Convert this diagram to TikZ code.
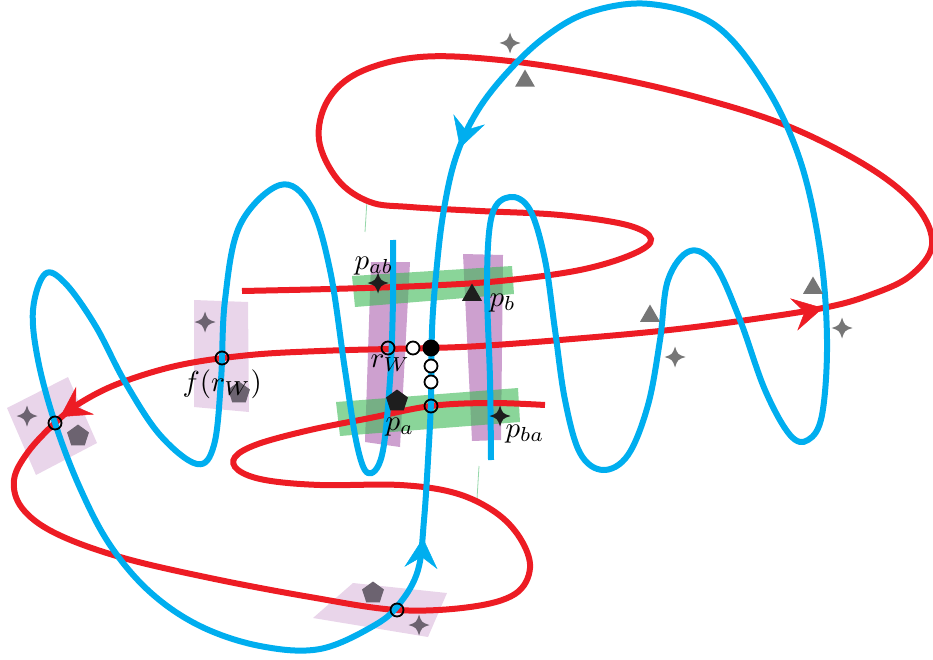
\documentclass[tikz,border=0pt]{standalone}
\usetikzlibrary{arrows.meta,shapes.geometric}
\definecolor{cred}{RGB}{237,28,36}
\definecolor{cblue}{RGB}{0,174,239}
\definecolor{mgray}{RGB}{118,118,118}
\definecolor{bgray}{RGB}{108,99,112}
\definecolor{lav}{RGB}{233,213,234}
\definecolor{bpurp}{RGB}{205,160,207}
\definecolor{bgreen}{RGB}{60,185,85}
\definecolor{tgreen}{RGB}{150,215,170}
\definecolor{mblack}{RGB}{30,30,30}
\tikzset{
  redline/.style={draw=cred, line width=6pt},
  blueline/.style={draw=cblue, line width=6pt},
  tipred/.style={draw=cred, fill=cred, line width=0.5pt, -{Stealth[length=30pt,width=33pt,inset=11pt]}},
  tipblue/.style={draw=cblue, fill=cblue, line width=0.5pt, -{Stealth[length=30pt,width=33pt,inset=11pt]}},
  lavbox/.style={fill=lav},
  purpband/.style={fill=bpurp},
  greenband/.style={fill=bgreen, fill opacity=0.6},
  thingreen/.style={draw=tgreen, line width=0.8pt},
  pentmark/.style={regular polygon, regular polygon sides=5, minimum size=23pt, inner sep=0pt},
  trimark/.style={regular polygon, regular polygon sides=3, minimum size=23pt, inner sep=0pt},
  hollow/.style={circle, draw=black, line width=1.8pt, minimum size=13pt, inner sep=0pt},
  hollowwhite/.style={hollow, fill=white},
  blackdot/.style={circle, fill=black, minimum size=17pt, inner sep=0pt},
  lbl/.style={anchor=base west, inner sep=0pt, scale=2.9},
  astro/.pic={\path[pic actions] (0,-10.5) .. controls (2.6,-2.6) .. (10.5,0) .. controls (2.6,2.6) .. (0,10.5) .. controls (-2.6,2.6) .. (-10.5,0) .. controls (-2.6,-2.6) .. cycle;}
}
\begin{document}
\begin{tikzpicture}[x=1pt,y=-1pt]
\useasboundingbox (0,0) rectangle (933,660);
% lavender boxes
\fill[lavbox] (194,300) -- (248,302) -- (249,412) -- (194,407) -- cycle;
\fill[lavbox] (7,408) -- (68,377) -- (97,443) -- (36,475) -- cycle;
\fill[lavbox] (313,618) -- (353,583) -- (447,593) -- (428,637) -- cycle;
% purple and green bands
\fill[purpband] (371,262) -- (410,262) -- (400,447) -- (365,442) -- cycle;
\fill[purpband] (463,254) -- (503,255) -- (501,440) -- (472,441) -- cycle;
\fill[greenband] (352,276) -- (512,266) -- (514,294) -- (355,307) -- cycle;
\fill[greenband] (336,402) -- (518,388) -- (520,422) -- (340,436) -- cycle;
% thin green lines
\coordinate (g1) at (367,200); \coordinate (g2) at (365,232);
\coordinate (g3) at (479,466); \coordinate (g4) at (477,499);
\draw[thingreen] (g1) -- (g2);
\draw[thingreen] (g3) -- (g4);
% red curve
\draw[redline] plot[smooth, tension=0.6] coordinates {
(242,291) (330,289) (420,286) (500,281) (580,270) (633,254) (651,239) (627,225) (560,215) (480,211) (410,207) (370,202) (338,180) (319,140) (328,100) (360,72) (420,57) (500,60) (600,75) (700,98) (790,127) (870,168) (917,207) (932,245) (910,276) (870,295) (823,308) (740,321) (660,331) (560,340) (480,346) (431,348) (388,349) (320,351) (250,355) (180,365) (120,383) (80,403) (55,423) (28,452) (14,480) (22,508) (55,533) (120,557) (210,578) (310,597) (397,610) (470,607) (515,594) (530,568) (520,538) (495,512) (455,493) (400,485) (320,485) (265,480) (238,470) (235,457) (258,444) (310,430) (370,418) (431,406) (490,403) (545,405)};
% blue curve
\draw[blueline] plot[smooth, tension=0.6] coordinates {
(491,460) (490,380) (487,280) (492,215) (510,197) (530,210) (545,260) (555,330) (565,400) (580,453) (603,470) (628,455) (648,405) (660,340) (668,280) (690,251) (715,265) (740,320) (765,390) (790,435) (808,440) (822,415) (827,340) (820,250) (800,160) (765,85) (715,25) (650,4) (590,12) (545,37) (505,75) (475,115) (455,160) (443,215) (436,275) (432,330) (431,400) (428,460) (424,520) (418,570) (400,603) (375,625) (320,649) (260,646) (200,626) (150,592) (110,545) (80,488) (55,423) (38,360) (33,310) (45,274) (65,283) (95,325) (125,382) (160,435) (197,464) (214,445) (221,380) (225,300) (240,225) (280,185) (310,205) (330,270) (345,370) (357,445) (368,473) (382,455) (390,380) (393,300) (393,240)};
% arrow heads
\coordinate (ar1) at (796,314); \coordinate (at1) at (823,308);
\coordinate (ar2) at (86,400);  \coordinate (at2) at (60,417);
\coordinate (ab1) at (469,120); \coordinate (bt1) at (460,148);
\coordinate (ab2) at (421,567); \coordinate (bt2) at (423,538);
\draw[tipred] (ar1) -- (at1);
\draw[tipred] (ar2) -- (at2);
\draw[tipblue] (ab1) -- (bt1);
\draw[tipblue] (ab2) -- (bt2);
% gray markers
\pic[fill=mgray] at (510,43) {astro};
\node[trimark, fill=mgray] (t1) at (525,81) {};
\node[trimark, fill=mgray] (t2) at (650,316) {};
\pic[fill=mgray] at (675,357) {astro};
\node[trimark, fill=mgray] (t3) at (813,288) {};
\pic[fill=mgray] at (842,328) {astro};
\pic[fill=bgray] at (205,322) {astro};
\node[pentmark, fill=bgray] (pg1) at (239,393) {};
\pic[fill=bgray] at (27,416) {astro};
\node[pentmark, fill=bgray] (pg2) at (78,436) {};
\node[pentmark, fill=bgray] (pg3) at (373,593) {};
\pic[fill=bgray] at (419,625) {astro};
% black markers
\pic[fill=mblack] at (378,283) {astro};
\node[trimark, fill=mblack] (tb) at (472,295) {};
\node[pentmark, fill=mblack] (pb) at (397,401) {};
\pic[fill=mblack] at (500,416) {astro};
% circles
\node[hollow] (c1) at (388,348) {};
\node[hollowwhite] (c2) at (413,348) {};
\node[hollowwhite] (c3) at (431,366) {};
\node[hollowwhite] (c4) at (431,382) {};
\node[hollow] (c5) at (431,406) {};
\node[hollow] (c6) at (222,358) {};
\node[hollow] (c7) at (55,423) {};
\node[hollow] (c8) at (397,610) {};
\node[blackdot] (q) at (431,348) {};
% labels
\node[lbl] (lab) at (354,269) {$p_{ab}$};
\node[lbl] (lb) at (489,306) {$p_b$};
\node[lbl] (lrw) at (370,367) {$r_W$};
\node[lbl] (la) at (385,430) {$p_a$};
\node[lbl] (lba) at (505,437) {$p_{ba}$};
\node[lbl] (lf) at (182,391) {$f(r_W)$};
\end{tikzpicture}
\end{document}
